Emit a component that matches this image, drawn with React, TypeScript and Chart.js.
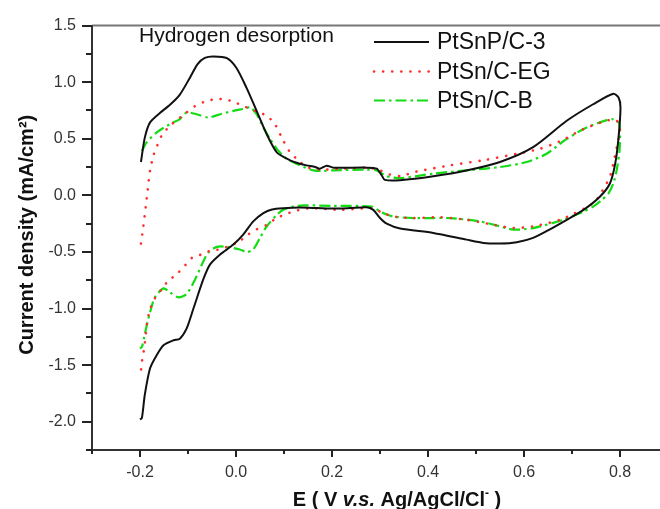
import { useEffect, useRef } from "react";
import { Chart, registerables } from "chart.js";

Chart.register(...registerables);

// ---- axis ticks ----
const xTickValues = [-0.2, 0.0, 0.2, 0.4, 0.6, 0.8];
const xMinorValues = [-0.3, -0.1, 0.1, 0.3, 0.5, 0.7];
const yTickValues = [-2.0, -1.5, -1.0, -0.5, 0.0, 0.5, 1.0, 1.5];
const yMinorValues = [-2.25, -1.75, -1.25, -0.75, -0.25, 0.25, 0.75, 1.25];

// ---- series labels ----
const seriesNames = ["PtSnP/C-3", "PtSn/C-EG", "PtSn/C-B"];
const annotationText = "Hydrogen desorption";

// ---- PtSnP/C-3 (E in V, j in mA/cm2) ----
const ptsnpE = [
  -0.198, -0.19, -0.179, -0.158, -0.1375, -0.117, -0.096, -0.08, -0.065, -0.047, -0.019, 0.001, 0.022, 0.043,
  0.064, 0.085, 0.1125, 0.133, 0.147, 0.165, 0.175, 0.189, 0.203, 0.272, 0.293, 0.3035, 0.31, 0.342, 0.411,
  0.48, 0.55, 0.619, 0.689, 0.744, 0.786, 0.797, 0.801,
  0.797, 0.79, 0.779, 0.758, 0.724, 0.689, 0.654, 0.619, 0.585, 0.55, 0.515, 0.48, 0.411, 0.342, 0.314, 0.3,
  0.286, 0.272, 0.2375, 0.203, 0.168, 0.133, 0.0985, 0.075, 0.057, 0.036, 0.015, -0.0056, -0.033, -0.054,
  -0.068, -0.089, -0.103, -0.117, -0.13, -0.151, -0.165, -0.179, -0.19, -0.196, -0.2,
];
const ptsnpJ = [
  0.295, 0.51, 0.645, 0.73, 0.8, 0.89, 1.04, 1.16, 1.215, 1.228, 1.213, 1.126, 0.95, 0.746,
  0.54, 0.38, 0.31, 0.28, 0.265, 0.25, 0.236, 0.262, 0.245, 0.245, 0.236, 0.178, 0.137, 0.134, 0.169,
  0.22, 0.295, 0.426, 0.659, 0.805, 0.898, 0.864, 0.776,
  0.513, 0.28, 0.105, -0.012, -0.128, -0.216, -0.3, -0.376, -0.414, -0.426, -0.42, -0.391, -0.332, -0.293, -0.25, -0.2,
  -0.128, -0.105, -0.112, -0.117, -0.112, -0.108, -0.114, -0.125, -0.157, -0.23, -0.347, -0.435, -0.522, -0.61,
  -0.741, -1.004, -1.178, -1.266, -1.28, -1.324, -1.41, -1.528, -1.762, -1.966, -1.98,
];

// ---- PtSn/C-EG ----
const ptsnEgE = [
  -0.198, -0.193, -0.188, -0.184, -0.179, -0.172, -0.164, -0.155, -0.1375, -0.103, -0.085, -0.065, -0.044, -0.025,
  -0.0056, 0.015, 0.043, 0.064, 0.081, 0.0985, 0.1125, 0.13, 0.147, 0.175, 0.224, 0.272, 0.3, 0.32, 0.342,
  0.376, 0.446, 0.515, 0.585, 0.633, 0.675, 0.724, 0.772, 0.792, 0.8,
  0.793, 0.786, 0.779, 0.772, 0.762, 0.748, 0.727, 0.706, 0.675, 0.619, 0.578, 0.536, 0.48, 0.425, 0.369, 0.328,
  0.307, 0.283, 0.217, 0.154, 0.119, 0.085, 0.064, 0.043, 0.022, 0.005, -0.016, -0.033, -0.051, -0.071, -0.089,
  -0.106, -0.1235, -0.141, -0.155, -0.169, -0.179, -0.183, -0.186, -0.19, -0.193, -0.196, -0.198,
];
const ptsnEgJ = [
  -0.426, -0.274, -0.099, 0.046, 0.221, 0.353, 0.44, 0.528, 0.615, 0.732, 0.79, 0.828, 0.849, 0.849,
  0.828, 0.79, 0.741, 0.703, 0.63, 0.484, 0.382, 0.31, 0.25, 0.228, 0.236, 0.245, 0.221, 0.185, 0.17,
  0.21, 0.265, 0.31, 0.367, 0.411, 0.478, 0.586, 0.659, 0.665, 0.586,
  0.42, 0.28, 0.164, 0.105, 0.032, -0.055, -0.114, -0.157, -0.216, -0.274, -0.289, -0.26, -0.216, -0.193, -0.201, -0.187,
  -0.157, -0.114, -0.128, -0.114, -0.143, -0.2, -0.26, -0.3, -0.355, -0.414, -0.449, -0.478, -0.484, -0.522, -0.542,
  -0.618, -0.697, -0.755, -0.83, -0.91, -1.004, -1.076, -1.149, -1.31, -1.397, -1.47, -1.551,
];

// ---- PtSn/C-B ----
const ptsnBE = [
  -0.196, -0.186, -0.165, -0.1375, -0.117, -0.103, -0.082, -0.058, -0.033, -0.0056, 0.022, 0.029, 0.043, 0.057,
  0.071, 0.085, 0.1056, 0.133, 0.161, 0.182, 0.203, 0.272, 0.293, 0.314, 0.342, 0.411, 0.48, 0.55, 0.606,
  0.647, 0.682, 0.724, 0.758, 0.783, 0.797, 0.8,
  0.799, 0.793, 0.786, 0.776, 0.762, 0.744, 0.724, 0.703, 0.682, 0.619, 0.578, 0.55, 0.508, 0.446, 0.376, 0.328,
  0.3, 0.283, 0.203, 0.14, 0.119, 0.0985, 0.085, 0.064, 0.05, 0.036, 0.022, 0.008, -0.019, -0.04, -0.058, -0.071,
  -0.085, -0.103, -0.12, -0.1375, -0.151, -0.169, -0.179, -0.186, -0.192, -0.196, -0.2,
];
const ptsnBJ = [
  0.391, 0.47, 0.557, 0.63, 0.674, 0.732, 0.717, 0.688, 0.717, 0.746, 0.77, 0.781, 0.717, 0.6,
  0.499, 0.411, 0.324, 0.265, 0.221, 0.216, 0.221, 0.227, 0.221, 0.169, 0.152, 0.192, 0.221, 0.25, 0.295,
  0.367, 0.478, 0.586, 0.645, 0.674, 0.645, 0.571,
  0.396, 0.221, 0.105, 0.017, -0.041, -0.099, -0.143, -0.181, -0.216, -0.289, -0.303, -0.274, -0.23, -0.201, -0.201, -0.187,
  -0.143, -0.099, -0.093, -0.088, -0.099, -0.128, -0.172, -0.274, -0.375, -0.478, -0.501, -0.478, -0.455, -0.455, -0.507, -0.61,
  -0.741, -0.872, -0.901, -0.857, -0.822, -0.901, -1.032, -1.149, -1.266, -1.339, -1.353,
];

const toPoints = (xs: number[], ys: number[]) => xs.map((x, i) => ({ x, y: ys[i] }));

const FONT = "'Liberation Sans', Arial, Helvetica, sans-serif";

const decorPlugin = {
  id: "decor",
  afterDraw(chart: any) {
    const { ctx, chartArea: a, scales } = chart;
    const xs = scales.x;
    const ys = scales.y;
    ctx.save();
    // frame
    ctx.lineCap = "butt";
    ctx.setLineDash([]);
    ctx.lineWidth = 2;
    ctx.strokeStyle = "#777";
    ctx.beginPath();
    ctx.moveTo(a.left, a.top);
    ctx.lineTo(a.right, a.top);
    ctx.stroke();
    ctx.strokeStyle = "#333";
    ctx.beginPath();
    ctx.moveTo(a.left, a.top);
    ctx.lineTo(a.left, a.bottom);
    ctx.lineTo(a.right, a.bottom);
    ctx.stroke();

    // x ticks (outward)
    ctx.strokeStyle = "#222";
    ctx.lineWidth = 2;
    xTickValues.forEach((v) => {
      const px = Math.round(xs.getPixelForValue(v));
      ctx.beginPath();
      ctx.moveTo(px, a.bottom);
      ctx.lineTo(px, a.bottom + 7);
      ctx.stroke();
    });
    xMinorValues.forEach((v) => {
      const px = Math.round(xs.getPixelForValue(v));
      ctx.beginPath();
      ctx.moveTo(px, a.bottom);
      ctx.lineTo(px, a.bottom + 4);
      ctx.stroke();
    });
    // y ticks (outward)
    yTickValues.forEach((v) => {
      const py = Math.round(ys.getPixelForValue(v));
      ctx.beginPath();
      ctx.moveTo(a.left, py);
      ctx.lineTo(a.left - 10, py);
      ctx.stroke();
    });
    yMinorValues.forEach((v) => {
      const py = Math.round(ys.getPixelForValue(v));
      ctx.beginPath();
      ctx.moveTo(a.left, py);
      ctx.lineTo(a.left - 6, py);
      ctx.stroke();
    });

    // y title
    ctx.fillStyle = "#111";
    ctx.save();
    ctx.translate(33, (a.top + a.bottom) / 2 - 3);
    ctx.rotate(-Math.PI / 2);
    ctx.font = `bold 20px ${FONT}`;
    ctx.textAlign = "center";
    ctx.textBaseline = "alphabetic";
    ctx.fillText("Current density (mA/cm\u00B2)", 0, 0);
    ctx.restore();

    // x title with mixed styles
    const parts = [
      { t: "E ( V ", f: `bold 20px ${FONT}`, dy: 0 },
      { t: "v.s.", f: `italic bold 20px ${FONT}`, dy: 0 },
      { t: " Ag/AgCl/Cl", f: `bold 20px ${FONT}`, dy: 0 },
      { t: "-", f: `bold 12px ${FONT}`, dy: -9 },
      { t: " )", f: `bold 20px ${FONT}`, dy: 0 },
    ];
    let total = 0;
    parts.forEach((p) => {
      ctx.font = p.f;
      total += ctx.measureText(p.t).width;
    });
    let cx = 397 - total / 2;
    ctx.textAlign = "left";
    ctx.textBaseline = "alphabetic";
    parts.forEach((p) => {
      ctx.font = p.f;
      ctx.fillText(p.t, cx, 506 + p.dy);
      cx += ctx.measureText(p.t).width;
    });

    // annotation
    ctx.font = `21px ${FONT}`;
    ctx.fillStyle = "#111";
    ctx.fillText(annotationText, 139, 42);

    // legend
    const rows = [42, 71.5, 100.5];
    chart.data.datasets.forEach((ds: any, i: number) => {
      const ly = rows[i];
      ctx.save();
      ctx.strokeStyle = ds.borderColor;
      ctx.lineWidth = ds.borderWidth;
      ctx.setLineDash(ds.borderDash || []);
      ctx.lineCap = ds.borderCapStyle || "butt";
      ctx.beginPath();
      ctx.moveTo(374, ly);
      ctx.lineTo(429, ly);
      ctx.stroke();
      ctx.restore();
      ctx.font = `23px ${FONT}`;
      ctx.fillStyle = "#111";
      ctx.textAlign = "left";
      ctx.fillText(ds.label, 437, ly + 7);
    });
    ctx.restore();
  },
};

export default function App() {
  const ref = useRef<HTMLCanvasElement | null>(null);
  useEffect(() => {
    if (!ref.current) return;
    const chart = new Chart(ref.current, {
      type: "scatter",
      data: {
        datasets: [
          {
            label: seriesNames[0],
            data: toPoints(ptsnpE, ptsnpJ),
            showLine: true,
            borderColor: "#111",
            borderWidth: 2,
            pointRadius: 0,
            tension: 0.25,
            fill: false,
          },
          {
            label: seriesNames[1],
            data: toPoints(ptsnEgE, ptsnEgJ),
            showLine: true,
            borderColor: "rgb(255,45,45)",
            borderWidth: 2.6,
            borderDash: [0.1, 9],
            borderCapStyle: "round",
            pointRadius: 0,
            tension: 0.25,
            fill: false,
          },
          {
            label: seriesNames[2],
            data: toPoints(ptsnBE, ptsnBJ),
            showLine: true,
            borderColor: "rgb(20,220,20)",
            borderWidth: 2.2,
            borderDash: [11, 4, 2.5, 4],
            pointRadius: 0,
            tension: 0.25,
            fill: false,
          },
        ] as any,
      },
      options: {
        animation: false,
        responsive: false,
        devicePixelRatio: 1,
        layout: { padding: { left: 0, top: 21, right: 52, bottom: 0 } },
        plugins: { legend: { display: false }, tooltip: { enabled: false } },
        scales: {
          x: {
            type: "linear",
            min: -0.3,
            max: 0.9,
            grid: { display: false, drawTicks: false },
            border: { display: false },
            afterBuildTicks: (s: any) => {
              s.ticks = xTickValues.map((v) => ({ value: v }));
            },
            afterFit: (s: any) => {
              s.height = 59;
            },
            ticks: {
              autoSkip: false,
              maxRotation: 0,
              padding: 13,
              color: "#333",
              font: { family: FONT, size: 16 },
              callback: (v: any) => Number(v).toFixed(1),
            },
          },
          y: {
            type: "linear",
            min: -2.25,
            max: 1.5,
            grid: { display: false, drawTicks: false },
            border: { display: false },
            afterBuildTicks: (s: any) => {
              s.ticks = yTickValues.map((v) => ({ value: v }));
            },
            afterFit: (s: any) => {
              s.width = 92;
            },
            ticks: {
              autoSkip: false,
              padding: 16,
              color: "#333",
              font: { family: FONT, size: 16 },
              callback: (v: any) => Number(v).toFixed(1),
            },
          },
        },
      },
      plugins: [decorPlugin],
    });
    return () => chart.destroy();
  }, []);
  return (
    <div
      style={{
        position: "fixed",
        left: 0,
        top: 0,
        width: 660,
        height: 509,
        overflow: "hidden",
        background: "#fff",
      }}
    >
      <canvas ref={ref} width={720} height={509} style={{ display: "block" }} />
    </div>
  );
}
